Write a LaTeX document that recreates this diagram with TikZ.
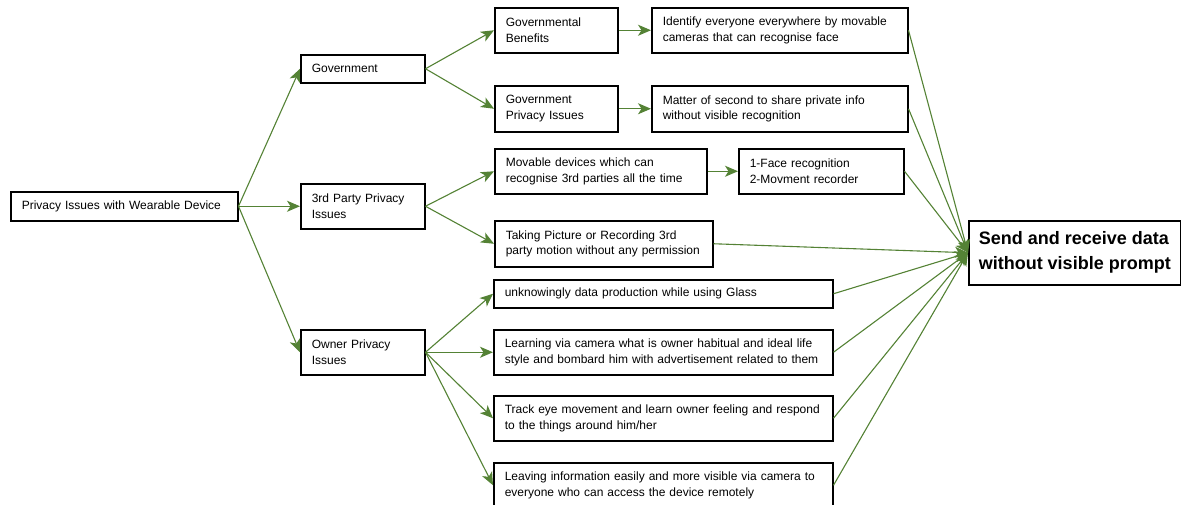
\documentclass[tikz,border=0pt]{standalone}
\usepackage{fontspec}
\setmainfont{Liberation Sans}
\usetikzlibrary{arrows.meta}
\definecolor{lgreen}{RGB}{84,130,53}
\tikzset{
  box/.style={draw=black, line width=1.5pt, rectangle, anchor=north west, align=left,
    inner xsep=11pt, inner ysep=2pt, font=\fontsize{12}{15.5}\selectfont},
  bigbox/.style={draw=black, line width=1.5pt, rectangle, anchor=north west, align=left,
    inner xsep=2pt, inner ysep=2pt, font=\bfseries\fontsize{18}{25}\selectfont},
  arr/.style={draw=lgreen, line width=1.1pt, -{Stealth[length=13pt,width=11pt,inset=3.5pt]}}
}
\newcommand\bx[7]{\node[box, minimum width=#4pt, minimum height=#5pt, text width=#6pt] (#1) at (#2,#3) {#7};}
\begin{document}
\begin{tikzpicture}[x=1pt,y=-1pt]
\useasboundingbox (0,0) rectangle (1181,504);
\bx{root}{10}{191}{227}{29}{205}{Privacy Issues with Wearable Device}
\bx{gov}{300}{54}{124}{28}{102}{Government}
\bx{third}{300}{183}{124}{45}{102}{3rd Party Privacy\\Issues}
\bx{owner}{300}{329}{124}{45}{102}{Owner Privacy\\Issues}
\bx{ben}{494}{7}{123}{45}{101}{Governmental\\Benefits}
\bx{gpriv}{494}{85}{123}{46}{101}{Government\\Privacy Issues}
\bx{ident}{651}{7}{256}{45}{234}{Identify everyone everywhere by movable\\cameras that can recognise face}
\bx{matter}{651}{85}{256}{46}{234}{Matter of second to share private info\\without visible recognition}
\bx{movable}{494}{148}{212}{45}{190}{Movable devices which can\\recognise 3rd parties all the time}
\bx{face}{738}{148}{165}{45}{143}{1-Face recognition\\2-Movment recorder}
\bx{taking}{494}{220}{218}{46}{196}{Taking Picture or Recording 3rd\\party motion without any permission}
\bx{unk}{493}{279}{339}{28}{317}{unknowingly data production while using Glass}
\bx{learn}{493}{329}{339}{45}{317}{Learning via camera what is owner habitual and ideal life\\style and bombard him with advertisement related to them}
\bx{track}{493}{395}{339}{45}{317}{Track eye movement and learn owner feeling and respond\\to the things around him/her}
\bx{leave}{493}{462}{339}{45}{317}{Leaving information easily and more visible via camera to\\everyone who can access the device remotely}
\node[bigbox, minimum width=212pt, minimum height=64pt] (send) at (968,220) {Send and receive data\\without visible prompt};

\draw[arr] (root.east) -- (gov.west);
\draw[arr] (root.east) -- (third.west);
\draw[arr] (root.east) -- (owner.west);
\draw[arr] (gov.east) -- (ben.west);
\draw[arr] (gov.east) -- (gpriv.west);
\draw[arr] (ben.east) -- (ident.west);
\draw[arr] (gpriv.east) -- (matter.west);
\draw[arr] (third.east) -- (movable.west);
\draw[arr] (third.east) -- (taking.west);
\draw[arr] (movable.east) -- (face.west);
\draw[arr] (owner.east) -- (unk.west);
\draw[arr] (owner.east) -- (learn.west);
\draw[arr] (owner.east) -- (track.west);
\draw[arr] (owner.east) -- (leave.west);
\foreach \n in {ident,matter,face,taking,unk,learn,track,leave}
  \draw[arr] (\n.east) -- (send.west);
\end{tikzpicture}
\end{document}
